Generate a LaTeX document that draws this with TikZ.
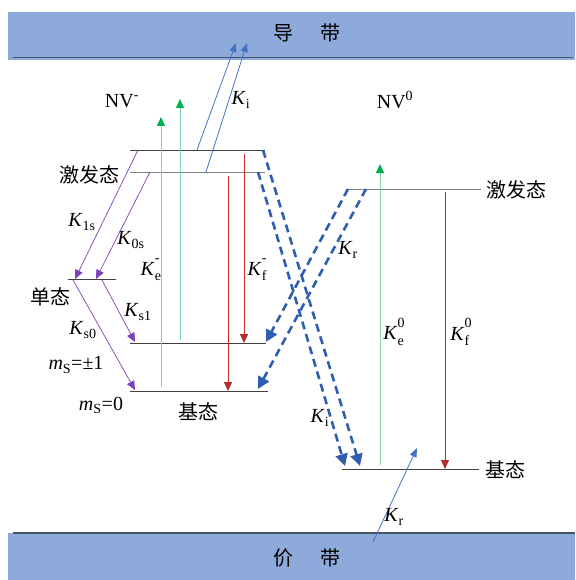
\documentclass[tikz,border=0pt]{standalone}
\usepackage{fontspec}
\setmainfont{Liberation Serif}
\newfontfamily\cjk{Noto Sans CJK SC}
\usetikzlibrary{arrows.meta}
\definecolor{BandBlue}{HTML}{8EAADB}
\definecolor{BandLine}{HTML}{44546A}
\definecolor{PumpGreen}{HTML}{80D8A8}
\definecolor{HeadGreen}{HTML}{00B050}
\definecolor{FluoRed}{HTML}{C83030}
\definecolor{IscPurple}{HTML}{7F3FB8}
\definecolor{IonBlue}{HTML}{4472C4}
\definecolor{DashBlue}{HTML}{2F5DB0}
\newcommand{\K}[1]{\textit{K}\textsubscript{#1}}
\newcommand{\KK}[2]{\textit{K}\rlap{\raisebox{-0.28em}{\fontsize{14}{14}\selectfont #1}}\raisebox{0.62em}{\fontsize{14}{14}\selectfont #2}}
\newcommand{\mS}[1]{\textit{m}\textsubscript{S}=#1}

\begin{document}
\begin{tikzpicture}[x=1pt, y=-1pt, font=\fontsize{20}{24}\selectfont,
    level/.style={draw=black!75, line width=0.9pt},
    levelgray/.style={draw=black!50, line width=1pt},
    pump/.style={draw=PumpGreen, line width=0.9pt, -{Triangle[length=9pt,width=8pt,color=HeadGreen]}},
    fluo/.style={draw=FluoRed, line width=0.8pt, -{Triangle[length=9pt,width=8pt,color=FluoRed!90!black]}},
    isc/.style={draw=IscPurple, line width=0.7pt, -{Triangle[length=9pt,width=8pt,color=IscPurple]}},
    ion/.style={draw=IonBlue, line width=0.8pt, -{Triangle[length=9pt,width=7pt]}},
    trans/.style={draw=DashBlue, line width=2.6pt, dash pattern=on 8pt off 5pt, -{Triangle[length=12pt,width=12pt]}},
    lbl/.style={inner sep=0pt}]
  \useasboundingbox (0,0) rectangle (575,580);

  % bands
  \fill[BandBlue] (8,12) rectangle (575,60);
  \draw[BandLine, line width=1.2pt] (13,57.5) -- (573,57.5);
  \fill[BandBlue] (8,533) rectangle (575,580);
  \draw[BandLine, line width=1.2pt] (13,533) -- (575,533);
  \node[lbl] (cband) at (307,33) {\cjk 导\hspace{1.4em}带};
  \node[lbl] (vband) at (307,558) {\cjk 价\hspace{1.4em}带};

  % NV- levels
  \coordinate (exA-l) at (130,150); \coordinate (exA-r) at (265,150);
  \coordinate (exB-l) at (130,172); \coordinate (exB-r) at (265,172);
  \coordinate (sing-l) at (68,279); \coordinate (sing-r) at (116,279);
  \coordinate (gp-l) at (130,343);  \coordinate (gp-r) at (266,343);
  \coordinate (gz-l) at (130,391);  \coordinate (gz-r) at (268,391);
  \draw[level] (exA-l) -- (exA-r);
  \draw[levelgray] (exB-l) -- (exB-r);
  \draw[level] (sing-l) -- (sing-r);
  \draw[level] (gp-l) -- (gp-r);
  \draw[level] (gz-l) -- (gz-r);

  % NV0 levels
  \coordinate (ex0-l) at (346,189); \coordinate (ex0-r) at (481,189);
  \coordinate (g0-l) at (342,469);  \coordinate (g0-r) at (479,469);
  \draw[levelgray] (ex0-l) -- (ex0-r);
  \draw[level] (g0-l) -- (g0-r);

  % labels
  \node[lbl] (nvm) at (122,101) {NV\textsuperscript{-}};
  \node[lbl] (nvz) at (395,100) {NV\textsuperscript{0}};
  \node[lbl] (exl) at (89,175) {\cjk 激发态};
  \node[lbl] (sgl) at (50,297) {\cjk 单态};
  \node[lbl] (gsl) at (198,412) {\cjk 基态};
  \node[lbl] (msp) at (76,365) {\mS{±1}};
  \node[lbl] (msz) at (101,405) {\mS{0}};
  \node[lbl] (exr) at (516,190) {\cjk 激发态};
  \node[lbl] (gsr) at (505,470) {\cjk 基态};

  % pump and fluorescence, NV-
  \coordinate (pA0) at (161,387); \coordinate (pA1) at (161,117);
  \coordinate (pB0) at (180,340); \coordinate (pB1) at (180,99);
  \draw[pump] (pA0) -- (pA1);
  \draw[pump] (pB0) -- (pB1);
  \coordinate (fA0) at (244,154); \coordinate (fA1) at (244,343);
  \coordinate (fB0) at (228,176); \coordinate (fB1) at (228,391);
  \draw[fluo] (fA0) -- (fA1);
  \draw[fluo] (fB0) -- (fB1);
  \node[lbl] (ke) at (150,270) {\KK{e}{-}};
  \node[lbl] (kf) at (257,270) {\KK{f}{-}};

  % intersystem crossing
  \coordinate (iA0) at (138,150); \coordinate (iA1) at (75,279);
  \coordinate (iB0) at (150,172); \coordinate (iB1) at (96,279);
  \coordinate (iC0) at (73,280);  \coordinate (iC1) at (135,390);
  \coordinate (iD0) at (102,280); \coordinate (iD1) at (135,342);
  \draw[isc] (iA0) -- (iA1);
  \draw[isc] (iB0) -- (iB1);
  \draw[isc] (iC0) -- (iC1);
  \draw[isc] (iD0) -- (iD1);
  \node[lbl] (k1s) at (82,222) {\K{1s}};
  \node[lbl] (k0s) at (131,240) {\K{0s}};
  \node[lbl] (ks1) at (138,312) {\K{s1}};
  \node[lbl] (ks0) at (83,330) {\K{s0}};

  % ionisation to conduction band
  \coordinate (uA0) at (197,150); \coordinate (uA1) at (236,43);
  \coordinate (uB0) at (206,172); \coordinate (uB1) at (247,43);
  \draw[ion] (uA0) -- (uA1);
  \draw[ion] (uB0) -- (uB1);
  \node[lbl] (kiu) at (241,100) {\K{i}};

  % charge conversion
  \coordinate (dA0) at (263,150); \coordinate (dA1) at (360,466);
  \coordinate (dB0) at (258,172); \coordinate (dB1) at (345,466);
  \coordinate (rA0) at (348,189); \coordinate (rA1) at (266,342);
  \coordinate (rB0) at (366,189); \coordinate (rB1) at (258,389);
  \draw[trans] (dA0) -- (dA1);
  \draw[trans] (dB0) -- (dB1);
  \draw[trans] (rA0) -- (rA1);
  \draw[trans] (rB0) -- (rB1);
  \node[lbl] (krm) at (348,250) {\K{r}};
  \node[lbl] (kil) at (320,418) {\K{i}};

  % NV0 pump and fluorescence
  \coordinate (pZ0) at (380,465); \coordinate (pZ1) at (380,164);
  \coordinate (fZ0) at (445,192); \coordinate (fZ1) at (445,469);
  \draw[pump] (pZ0) -- (pZ1);
  \draw[fluo] (fZ0) -- (fZ1);
  \node[lbl] (ke0) at (394,332) {\KK{e}{0}};
  \node[lbl] (kf0) at (461,332) {\KK{f}{0}};

  % recombination from valence band
  \coordinate (vA0) at (373,542); \coordinate (vA1) at (417,448);
  \draw[ion] (vA0) -- (vA1);
  \node[lbl] (krl) at (394,517) {\K{r}};
\end{tikzpicture}
\end{document}
